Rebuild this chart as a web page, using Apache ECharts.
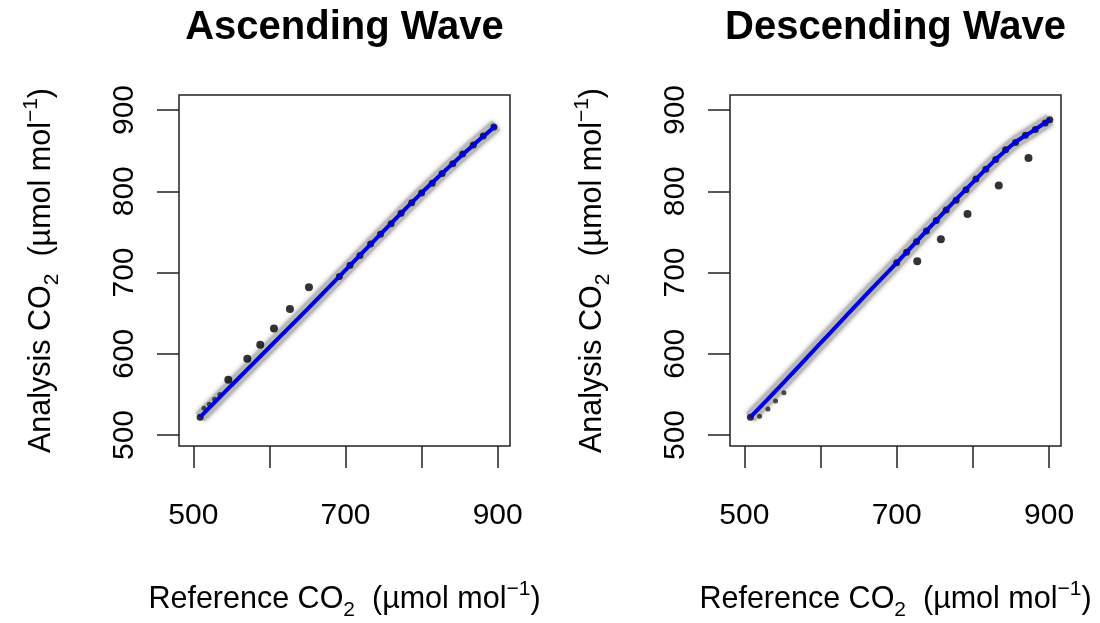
<!DOCTYPE html>
<html>
<head>
<meta charset="utf-8">
<script src="https://cdn.jsdelivr.net/npm/echarts@6.0.0/dist/echarts.min.js"></script>
<style>
  html, body { margin: 0; padding: 0; background: #fff; }
  #chart { width: 1100px; height: 623px; }
</style>
</head>
<body>
<div id="chart"></div>
<script>
// axis ticks
const xTicks = [500, 600, 700, 800, 900]
const xTickLabels = [500, 700, 900]
const yTicks = [500, 600, 700, 800, 900]

const titles = ['Ascending Wave', 'Descending Wave']

// ascending wave: fitted curve
const ascFitRef = [509, 550, 600, 650, 700, 750, 800, 850, 898]
const ascFitAna = [522, 561, 608, 655, 703, 751, 798, 842, 881]
// ascending wave: points lying on the curve
const ascOnRef = [509, 692, 706, 719, 733, 746, 760, 773, 787, 800, 814, 827, 841, 854, 868, 881, 895]
const ascOnAna = [522, 695, 709, 721, 735, 747, 760, 773, 786, 798, 810, 822, 834, 846, 857, 868, 879]
// ascending wave: small points near the start
const ascSmallRef = [514, 521, 528, 535]
const ascSmallAna = [533, 538, 544, 550]
// ascending wave: points off the curve
const ascOffRef = [546, 571, 588, 606, 627, 652]
const ascOffAna = [568, 594, 611, 631, 655, 682]

// descending wave: fitted curve
const descFitRef = [508, 550, 600, 650, 700, 750, 800, 850, 880, 901]
const descFitAna = [522, 563, 613, 663, 712, 762, 811, 856, 875, 888]
// descending wave: points lying on the curve
const descOnRef = [508, 700, 713, 726, 739, 752, 765, 778, 791, 804, 817, 830, 843, 856, 869, 882, 895, 901]
const descOnAna = [522, 712, 725, 738, 751, 764, 777, 789, 802, 815, 827, 839, 851, 860, 869, 876, 884, 888]
// descending wave: small points near the start
const descSmallRef = [520, 531, 541, 552]
const descSmallAna = [523, 532, 542, 552]
// descending wave: points off the curve
const descOffRef = [727, 758, 793, 834, 873]
const descOffAna = [714, 741, 772, 807, 841]

const pairs = (xs, ys) => xs.map((x, i) => [x, ys[i]])

const fontFamily = '"Liberation Sans", Arial, Helvetica, sans-serif'
const richName = {
  sub: { fontSize: 21, lineHeight: 21, verticalAlign: 'bottom', fontFamily: fontFamily, color: '#000' },
  sup: { fontSize: 21, lineHeight: 21, verticalAlign: 'top', fontFamily: fontFamily, color: '#000' }
}

const grids = [
  { left: 179, top: 95, width: 331, height: 351 },
  { left: 730, top: 95, width: 331, height: 351 }
]
const xRanges = [[481.2, 916.2], [481.2, 915.7]]

function makeSeries(i, fitR, fitA, onR, onA, smR, smA, offR, offA) {
  return [
    {
      type: 'line', xAxisIndex: i, yAxisIndex: i, z: 1,
      data: pairs(fitR, fitA), smooth: true, showSymbol: false, silent: true,
      lineStyle: { color: '#b9b9b9', width: 12, shadowBlur: 4, shadowColor: 'rgba(110,110,110,0.7)' }
    },
    {
      type: 'scatter', xAxisIndex: i, yAxisIndex: i, z: 2,
      data: pairs(onR, onA), symbolSize: 7, itemStyle: { color: '#000' }
    },
    {
      type: 'scatter', xAxisIndex: i, yAxisIndex: i, z: 2,
      data: pairs(smR, smA), symbolSize: 5, itemStyle: { color: '#222' }
    },
    {
      type: 'line', xAxisIndex: i, yAxisIndex: i, z: 3,
      data: pairs(fitR, fitA), smooth: true, showSymbol: false, silent: true,
      lineStyle: { color: '#0000e6', width: 4 }
    },
    {
      type: 'scatter', xAxisIndex: i, yAxisIndex: i, z: 4,
      data: pairs(offR, offA), symbolSize: 8, itemStyle: { color: '#000' }
    }
  ]
}

const chart = echarts.init(document.getElementById('chart'))

const option = {
  backgroundColor: '#fff',
  animation: false,
  title: titles.map((t, i) => ({
    text: t,
    left: grids[i].left + grids[i].width / 2,
    textAlign: 'center',
    top: 8,
    padding: 0,
    textStyle: { fontSize: 40, fontWeight: 'bold', color: '#000', fontFamily: fontFamily }
  })),
  grid: grids.map(g => ({
    ...g,
    show: true,
    borderColor: '#222',
    borderWidth: 1.5,
    outerBoundsMode: 'none'
  })),
  xAxis: [0, 1].map(i => ({
    type: 'value', gridIndex: i,
    min: xRanges[i][0], max: xRanges[i][1],
    name: 'Reference CO{sub|2}  (µmol mol{sup|−1})',
    nameLocation: 'middle', nameGap: 133,
    nameTextStyle: { fontSize: 30.5, lineHeight: 42, color: '#000', fontFamily: fontFamily, rich: richName },
    axisLine: { show: false },
    splitLine: { show: false },
    axisTick: { show: true, length: 22, customValues: xTicks, lineStyle: { color: '#222', width: 1.5 } },
    axisLabel: { customValues: xTickLabels, fontSize: 30, color: '#000', margin: 55, fontFamily: fontFamily }
  })),
  yAxis: [0, 1].map(i => ({
    type: 'value', gridIndex: i,
    min: 486.5, max: 918.5,
    name: 'Analysis CO{sub|2}  (µmol mol{sup|−1})',
    nameLocation: 'middle', nameGap: 116, nameRotate: 90,
    nameTextStyle: { fontSize: 30.5, lineHeight: 42, color: '#000', fontFamily: fontFamily, rich: richName },
    axisLine: { show: false },
    splitLine: { show: false },
    axisTick: { show: true, length: 22, customValues: yTicks, lineStyle: { color: '#222', width: 1.5 } },
    axisLabel: { customValues: yTicks, rotate: 90, fontSize: 30, color: '#000', margin: 39, fontFamily: fontFamily }
  })),
  series: [
    ...makeSeries(0, ascFitRef, ascFitAna, ascOnRef, ascOnAna, ascSmallRef, ascSmallAna, ascOffRef, ascOffAna),
    ...makeSeries(1, descFitRef, descFitAna, descOnRef, descOnAna, descSmallRef, descSmallAna, descOffRef, descOffAna)
  ]
}

chart.setOption(option)
</script>
</body>
</html>
